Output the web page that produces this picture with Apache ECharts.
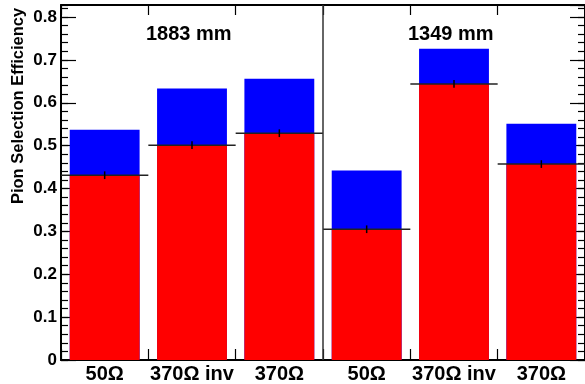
<!DOCTYPE html>
<html>
<head>
<meta charset="utf-8">
<script src="https://cdn.jsdelivr.net/npm/echarts@6/dist/echarts.min.js"></script>
<style>html,body{margin:0;padding:0;background:#fff}#c{width:585px;height:384px}</style>
</head>
<body>
<div id="c"></div>
<script>
const categories = ['50Ω', '370Ω inv', '370Ω', '50Ω', '370Ω inv', '370Ω'];
const totalEff = [0.537, 0.633, 0.656, 0.442, 0.726, 0.551];
const pionEff = [0.431, 0.501, 0.529, 0.305, 0.644, 0.457];
const pionErr = [0.009, 0.009, 0.009, 0.009, 0.009, 0.009];
const groupLabels = ['1883 mm', '1349 mm'];
const dividerAfterIndex = 2;
const yMin = 0, yMax = 0.828;

const FONT = "'Liberation Sans', Arial, Helvetica, sans-serif";
const chart = echarts.init(document.getElementById('c'), null, {renderer: 'canvas'});

const lineData = pionEff.map((v, i) => [i, v, pionErr[i]]);

function yAx(pos, interval, len, showLabel) {
  return {
    type: 'value', position: pos, min: yMin, max: yMax, interval: interval,
    axisLine: {show: interval === 0.1, onZero: false, lineStyle: {color: '#000', width: 2}},
    axisTick: {show: true, inside: true, length: len, lineStyle: {color: '#000', width: 1.2}},
    splitLine: {show: false},
    axisLabel: showLabel ? {
      show: true, margin: 4, color: '#000', fontFamily: FONT, fontWeight: 'bold', fontSize: 17,
      showMaxLabel: false,
      formatter: v => (Math.abs(v * 10 - Math.round(v * 10)) < 1e-6) ? (v === 0 ? '0' : v.toFixed(1)) : ''
    } : {show: false}
  };
}

const option = {
  animation: false,
  backgroundColor: '#fff',
  grid: {left: 61, right: 0, top: 5, bottom: 23, containLabel: false},
  xAxis: [
    {
      type: 'category', data: categories, position: 'bottom',
      axisLine: {onZero: false, lineStyle: {color: '#000', width: 2}},
      axisTick: {show: true, inside: true, length: 11, lineStyle: {color: '#000', width: 1.2}},
      axisLabel: {margin: 4, color: '#000', fontFamily: FONT, fontWeight: 'bold', fontSize: 20, interval: 0},
      splitLine: {show: false}
    },
    {
      type: 'category', data: categories, position: 'top',
      axisLine: {onZero: false, lineStyle: {color: '#000', width: 2}},
      axisTick: {show: true, inside: true, length: 10, lineStyle: {color: '#000', width: 1.2}},
      axisLabel: {show: false},
      splitLine: {show: false}
    }
  ],
  yAxis: [
    yAx('left', 0.1, 15, true),
    yAx('left', 0.02, 7, false),
    yAx('right', 0.1, 15, false),
    yAx('right', 0.02, 7, false)
  ],
  graphic: [
    {type: 'text', left: 146, top: 24, style: {text: groupLabels[0], font: 'bold 20px ' + FONT, fill: '#000'}},
    {type: 'text', left: 408, top: 24, style: {text: groupLabels[1], font: 'bold 20px ' + FONT, fill: '#000'}},
    {type: 'text', x: 18, y: 106, rotation: Math.PI / 2, style: {text: 'Pion Selection Efficiency', font: 'bold 16.5px ' + FONT, fill: '#000', align: 'center', verticalAlign: 'middle'}}
  ],
  series: [
    {
      type: 'bar', data: totalEff, barWidth: '80%', barGap: '-100%',
      itemStyle: {color: '#0000ff'}, silent: true
    },
    {
      type: 'bar', data: pionEff, barWidth: '80%', barGap: '-100%',
      itemStyle: {color: '#ff0000'}, silent: true
    },
    {
      type: 'custom', data: lineData, z: 5, silent: true,
      renderItem: function (params, api) {
        const i = api.value(0), v = api.value(1), e = api.value(2);
        const c = api.coord([i, v]);
        const w = api.size([1, 0])[0];
        const top = api.coord([i, v + e]);
        const bot = api.coord([i, v - e]);
        return {
          type: 'group', children: [
            {type: 'line', shape: {x1: c[0] - w / 2, y1: c[1], x2: c[0] + w / 2, y2: c[1]}, style: {stroke: '#222', lineWidth: 1.5}},
            {type: 'line', shape: {x1: c[0], y1: top[1], x2: c[0], y2: bot[1]}, style: {stroke: '#000', lineWidth: 1.5}}
          ]
        };
      }
    },
    {
      type: 'custom', data: [[dividerAfterIndex]], z: 6, silent: true,
      renderItem: function (params, api) {
        const i = api.value(0);
        const w = api.size([1, 0])[0];
        const a = api.coord([i, yMin]);
        const b = api.coord([i, yMax]);
        const x = a[0] + w / 2;
        return {type: 'line', shape: {x1: x, y1: a[1], x2: x, y2: b[1]}, style: {stroke: '#333', lineWidth: 1.5}};
      }
    }
  ]
};
chart.setOption(option);
</script>
</body>
</html>
